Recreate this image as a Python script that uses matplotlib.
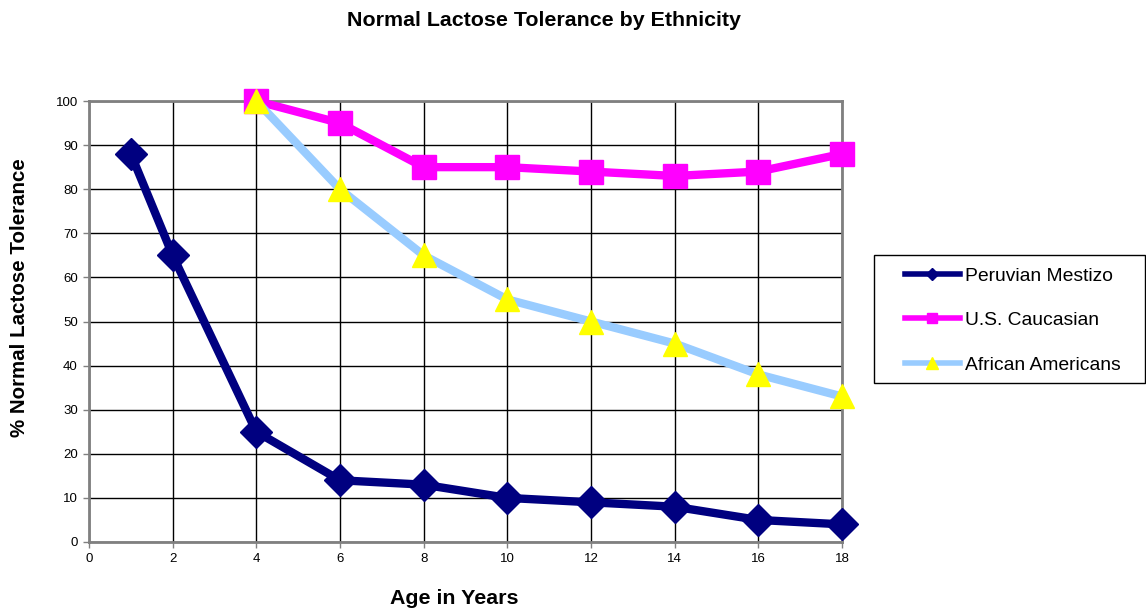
import matplotlib
matplotlib.use("Agg")
import matplotlib.pyplot as plt
from matplotlib.lines import Line2D
from matplotlib.patches import Rectangle

plt.rcParams['font.family'] = ['Liberation Sans', 'DejaVu Sans']

peru_x = [1, 2, 4, 6, 8, 10, 12, 14, 16, 18]
peru_y = [88, 65, 25, 14, 13, 10, 9, 8, 5, 4]
cauc_x = [4, 6, 8, 10, 12, 14, 16, 18]
cauc_y = [100, 95, 85, 85, 84, 83, 84, 88]
afr_x = [4, 6, 8, 10, 12, 14, 16, 18]
afr_y = [100, 80, 65, 55, 50, 45, 38, 33]
labels = ["Peruvian Mestizo", "U.S. Caucasian", "African Americans"]
xticks = list(range(0, 19, 2))
yticks = list(range(0, 101, 10))

W, H = 1146, 609
fig = plt.figure(figsize=(W/100, H/100), dpi=100)
ax = fig.add_axes([89/W, 1 - 542/H, (842-89)/W, (542-101)/H])

ax.plot(peru_x, peru_y, color='#000080', lw=6, marker='D', ms=16, mfc='#000080', mec='#000080', zorder=3, clip_on=False)
ax.plot(cauc_x, cauc_y, color='#FF00FF', lw=6, marker='s', ms=17, mfc='#FF00FF', mec='#FF00FF', zorder=4, clip_on=False)
ax.plot(afr_x, afr_y, color='#99CCFF', lw=6, marker='^', ms=17, mfc='#FFFF00', mec='#FFFF00', zorder=5, clip_on=False)

ax.set_xlim(0, 18)
ax.set_ylim(0, 100)
ax.set_xticks(xticks)
ax.set_yticks(yticks)
ax.grid(True, color='black', lw=1)
ax.set_axisbelow(True)
for s in ax.spines.values():
    s.set_color('#808080')
    s.set_linewidth(2)
ax.tick_params(axis='both', direction='out', length=4, width=1, color='#808080', labelsize=9.5, pad=4)

fig.text(544/W, 1 - 21/H, "Normal Lactose Tolerance by Ethnicity", ha='center', va='center', fontsize=15.4, fontweight='bold')
fig.text(20/W, 1 - 298/H, "% Normal Lactose Tolerance", ha='center', va='center', rotation=90, fontsize=14.8, fontweight='bold')
fig.text(454/W, 1 - 598/H, "Age in Years", ha='center', va='center', fontsize=15.4, fontweight='bold')

# legend box
fig.patches.append(Rectangle((874/W, 1 - 383/H), (1145-874)/W, (383-255)/H, transform=fig.transFigure,
                             facecolor='white', edgecolor='black', lw=1, zorder=10))
handles = [
    Line2D([], [], color='#000080', lw=4, marker='D', ms=6, mfc='#000080', mec='#000080'),
    Line2D([], [], color='#FF00FF', lw=4, marker='s', ms=7, mfc='#FF00FF', mec='#FF00FF'),
    Line2D([], [], color='#99CCFF', lw=4, marker='^', ms=9, mfc='#FFFF00', mec='#FFFF00'),
]
leg = fig.legend(handles, labels, loc='upper left', bbox_to_anchor=(905/W, 1 - 267/H),
                 fontsize=13.9, frameon=False, handlelength=2.84, handletextpad=0.26,
                 labelspacing=1.4, borderpad=0, borderaxespad=0)
leg.set_zorder(11)

fig.savefig("out.png", dpi=100)
